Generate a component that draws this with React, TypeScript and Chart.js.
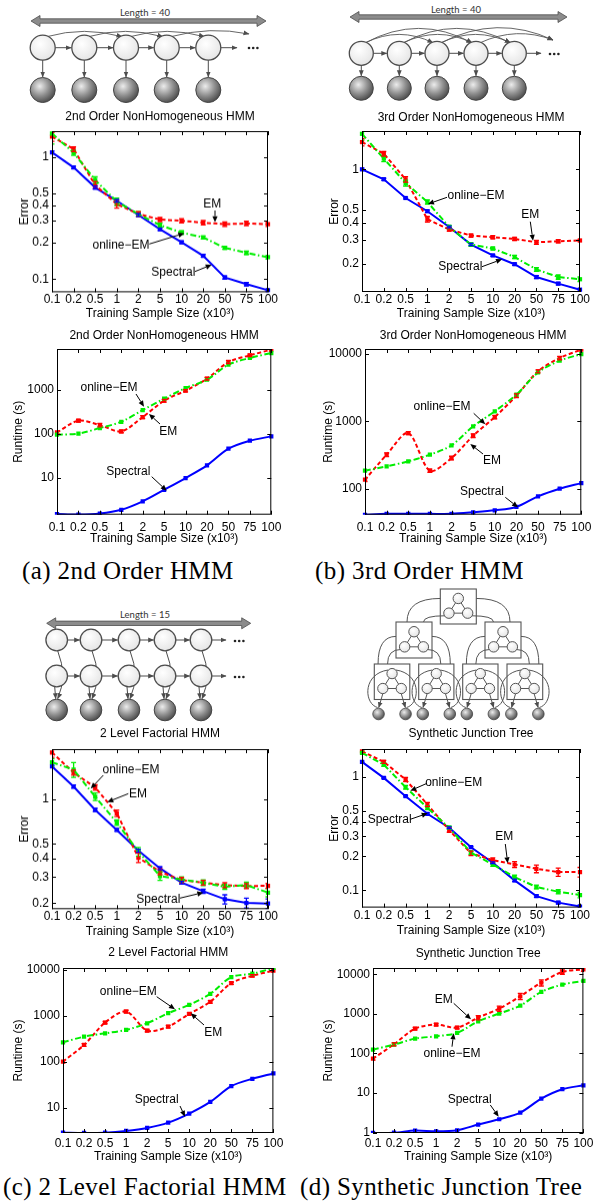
import React, { useEffect, useRef } from "react";
import { Chart, registerables } from "chart.js";

Chart.register(...registerables);
Chart.defaults.font.family = '"Liberation Sans", Arial, sans-serif';

// ---------------- data ----------------
const SAMPLE_SIZES = ["0.1", "0.2", "0.5", "1", "2", "5", "10", "20", "50", "75", "100"];
const X_LABEL = "Training Sample Size (x10\u00B3)";

// (a) 2nd Order NonHomogeneous HMM
const A_ERR_SPECTRAL = [1.085, 0.818, 0.561, 0.437, 0.334, 0.256, 0.2, 0.155, 0.103, 0.091, 0.081];
const A_ERR_EM = [1.46, 1.155, 0.587, 0.41, 0.34, 0.307, 0.3, 0.289, 0.281, 0.285, 0.281];
const A_ERR_ONLINE = [1.55, 1.078, 0.645, 0.43, 0.34, 0.276, 0.24, 0.219, 0.18, 0.164, 0.151];
const A_ERR_SPECTRAL_BAR = [0.03, 0.02, 0.015, 0.01, 0.008, 0.006, 0.005, 0.004, 0.003, 0.003, 0.002];
const A_ERR_EM_BAR = [0.12, 0.05, 0.04, 0.03, 0.015, 0.012, 0.012, 0.012, 0.012, 0.012, 0.012];
const A_ERR_ONLINE_BAR = [0.28, 0.05, 0.04, 0.03, 0.015, 0.01, 0.008, 0.006, 0.005, 0.005, 0.005];
const A_ERR_YTICKS = [0.1, 0.2, 0.3, 0.4, 0.5, 1];

const A_RT_SPECTRAL = [1.52, 1.48, 1.56, 1.9, 2.95, 5.4, 10, 19.4, 46.4, 70.5, 88.5];
const A_RT_EM = [109, 201, 160, 115, 243, 573, 966, 1810, 4330, 6140, 8260];
const A_RT_ONLINE = [96.6, 102, 137, 190, 351, 635, 1110, 1718, 3770, 5340, 6930];
const A_RT_EM_BAR = [8, 15, 14, 8, 18, 40, 60, 120, 350, 400, 600];
const A_RT_YTICKS = [10, 100, 1000];

// (b) 3rd Order NonHomogeneous HMM
const B_ERR_SPECTRAL = [1.0, 0.844, 0.614, 0.49, 0.375, 0.278, 0.231, 0.199, 0.16, 0.143, 0.129];
const B_ERR_EM = [1.59, 1.305, 0.844, 0.428, 0.359, 0.324, 0.315, 0.306, 0.289, 0.294, 0.298];
const B_ERR_ONLINE = [1.83, 1.2, 0.793, 0.574, 0.375, 0.278, 0.26, 0.225, 0.182, 0.16, 0.154];
const B_ERR_SPECTRAL_BAR = [0.02, 0.015, 0.01, 0.01, 0.006, 0.005, 0.004, 0.004, 0.004, 0.003, 0.003];
const B_ERR_EM_BAR = [0.1, 0.05, 0.04, 0.02, 0.01, 0.008, 0.008, 0.008, 0.01, 0.008, 0.006];
const B_ERR_ONLINE_BAR = [0.18, 0.06, 0.04, 0.02, 0.01, 0.008, 0.006, 0.006, 0.006, 0.006, 0.006];
const B_ERR_YTICKS = [0.2, 0.3, 0.4, 0.5, 1];

const B_RT_SPECTRAL = [41, 42.3, 42.3, 42.3, 42.3, 44.6, 47.7, 53.5, 77, 100, 121];
const B_RT_EM = [136, 320, 671, 185, 285, 612, 1158, 2404, 5530, 8720, 11600];
const B_RT_ONLINE = [185, 215, 255, 320, 440, 843, 1409, 2490, 5340, 7960, 10000];
const B_RT_EM_BAR = [8, 20, 35, 10, 18, 40, 70, 150, 300, 500, 500];
const B_RT_YTICKS = [100, 1000, 10000];

// (c) 2 Level Factorial HMM
const C_ERR_SPECTRAL = [1.66, 1.217, 0.848, 0.622, 0.451, 0.343, 0.275, 0.241, 0.213, 0.201, 0.199];
const C_ERR_EM = [2.06, 1.51, 1.2, 0.805, 0.405, 0.326, 0.286, 0.275, 0.265, 0.261, 0.262];
const C_ERR_ONLINE = [1.77, 1.58, 1.04, 0.697, 0.444, 0.305, 0.289, 0.275, 0.258, 0.265, 0.236];
const C_ERR_SPECTRAL_BAR = [0.03, 0.03, 0.02, 0.012, 0.01, 0.008, 0.006, 0.008, 0.015, 0.015, 0.015];
const C_ERR_EM_BAR = [0.15, 0.06, 0.05, 0.04, 0.03, 0.015, 0.012, 0.01, 0.01, 0.01, 0.01];
const C_ERR_ONLINE_BAR = [0.1, 0.18, 0.06, 0.03, 0.03, 0.02, 0.012, 0.012, 0.01, 0.012, 0.015];
const C_ERR_YTICKS = [0.2, 0.3, 0.4, 0.5, 1];

const C_RT_SPECTRAL = [2.84, 2.8, 2.84, 3.09, 3.59, 4.7, 7.4, 13.3, 29.2, 42.2, 55.3];
const C_RT_EM = [100, 230, 706, 1230, 472, 578, 1093, 2000, 5120, 7400, 9510];
const C_RT_ONLINE = [263, 349, 413, 489, 683, 1130, 1720, 2990, 6920, 8180, 10900];
const C_RT_EM_BAR = [6, 15, 40, 80, 30, 35, 60, 120, 300, 400, 500];
const C_RT_YTICKS = [10, 100, 1000, 10000];

// (d) Synthetic Junction Tree
const D_ERR_SPECTRAL = [1.355, 0.98, 0.676, 0.473, 0.356, 0.24, 0.175, 0.1225, 0.089, 0.078, 0.072];
const D_ERR_EM = [1.68, 1.355, 0.947, 0.571, 0.34, 0.212, 0.185, 0.169, 0.155, 0.145, 0.145];
const D_ERR_ONLINE = [1.63, 1.28, 0.811, 0.534, 0.356, 0.215, 0.169, 0.131, 0.107, 0.0973, 0.091];
const D_ERR_SPECTRAL_BAR = [0.02, 0.015, 0.01, 0.008, 0.006, 0.004, 0.003, 0.003, 0.002, 0.002, 0.002];
const D_ERR_EM_BAR = [0.04, 0.04, 0.04, 0.025, 0.015, 0.01, 0.008, 0.01, 0.012, 0.012, 0.014];
const D_ERR_ONLINE_BAR = [0.05, 0.04, 0.03, 0.02, 0.012, 0.008, 0.006, 0.005, 0.004, 0.004, 0.005];
const D_ERR_YTICKS = [0.1, 0.2, 0.3, 0.4, 0.5, 1];

const D_RT_SPECTRAL = [0.985, 1.0, 1.13, 1.08, 1.15, 1.6, 2.18, 3.21, 7.25, 12.5, 15.7];
const D_RT_EM = [74, 171, 424, 535, 450, 805, 1360, 2780, 6160, 11450, 13370];
const D_RT_ONLINE = [125, 168, 237, 272, 330, 650, 1016, 1620, 3580, 5480, 6790];
const D_RT_EM_BAR = [6, 15, 30, 40, 30, 100, 200, 500, 1100, 1500, 1500];
const D_RT_YTICKS = [1, 10, 100, 1000, 10000];

// ---------------- styles ----------------
type Kind = "sp" | "em" | "oe";
const COLORS: Record<Kind, string> = { sp: "#0000ff", em: "#ff0000", oe: "#00ee00" };
const DASH: Record<Kind, number[]> = { sp: [], em: [4, 2.5], oe: [6, 2.5, 1.5, 2.5] };

interface Series { kind: Kind; data: number[]; err?: number[] }
interface Ann { text: string; x: number; y: number; from: [number, number]; to: [number, number] }
interface PanelCfg {
  id: string; title: string; ylabel: string;
  L: number; T: number; R: number; B: number; ytx: number;
  tickGap: number; xlGap: number; titleGap: number;
  ymin: number; ymax: number; yticks: number[]; tension: number;
  series: Series[]; anns: Ann[];
}

const OEM = "online\u2212EM";

const PANELS: PanelCfg[] = [
  {
    id: "aerr", title: "2nd Order NonHomogeneous HMM", ylabel: "Error",
    L: 52, T: 131, R: 268, B: 292, ytx: 25, tickGap: 7.6, xlGap: 21.6, titleGap: 14,
    ymin: 0.078, ymax: 1.62, yticks: A_ERR_YTICKS, tension: 0,
    series: [
      { kind: "oe", data: A_ERR_ONLINE, err: A_ERR_ONLINE_BAR },
      { kind: "em", data: A_ERR_EM, err: A_ERR_EM_BAR },
      { kind: "sp", data: A_ERR_SPECTRAL, err: A_ERR_SPECTRAL_BAR },
    ],
    anns: [
      { text: "EM", x: 212.3, y: 203.3, from: [215, 210], to: [215, 221.7] },
      { text: OEM, x: 121, y: 245, from: [149.3, 243.3], to: [184.3, 232.7] },
      { text: "Spectral", x: 173.3, y: 271.7, from: [195, 270.7], to: [211.7, 264] },
    ],
  },
  {
    id: "berr", title: "3rd Order NonHomogeneous HMM", ylabel: "Error",
    L: 362, T: 131, R: 580, B: 292, ytx: 335, tickGap: 8, xlGap: 22, titleGap: 13.5,
    ymin: 0.124, ymax: 1.92, yticks: B_ERR_YTICKS, tension: 0,
    series: [
      { kind: "oe", data: B_ERR_ONLINE, err: B_ERR_ONLINE_BAR },
      { kind: "em", data: B_ERR_EM, err: B_ERR_EM_BAR },
      { kind: "sp", data: B_ERR_SPECTRAL, err: B_ERR_SPECTRAL_BAR },
    ],
    anns: [
      { text: OEM, x: 476, y: 196, from: [447, 197.3], to: [428, 204] },
      { text: "EM", x: 530.3, y: 214.3, from: [530.3, 221.7], to: [533, 240.7] },
      { text: "Spectral", x: 460.3, y: 266.7, from: [482, 266.7], to: [502, 259.3] },
    ],
  },
  {
    id: "art", title: "2nd Order NonHomogeneous HMM", ylabel: "Runtime (s)",
    L: 57, T: 349, R: 274, B: 515, ytx: 19, tickGap: 12.7, xlGap: 24.3, titleGap: 13.6,
    ymin: 1.47, ymax: 8550, yticks: A_RT_YTICKS, tension: 0.3,
    series: [
      { kind: "oe", data: A_RT_ONLINE },
      { kind: "em", data: A_RT_EM, err: A_RT_EM_BAR },
      { kind: "sp", data: A_RT_SPECTRAL },
    ],
    anns: [
      { text: OEM, x: 109, y: 387.7, from: [136, 394], to: [144, 406.7] },
      { text: "EM", x: 168.3, y: 431.7, from: [160, 424], to: [149, 414] },
      { text: "Spectral", x: 128.3, y: 471.7, from: [151.7, 476.7], to: [166.7, 490.7] },
    ],
  },
  {
    id: "brt", title: "3rd Order NonHomogeneous HMM", ylabel: "Runtime (s)",
    L: 365, T: 349, R: 584, B: 515, ytx: 329, tickGap: 12.7, xlGap: 24.3, titleGap: 13.6,
    ymin: 41.1, ymax: 11870, yticks: B_RT_YTICKS, tension: 0.3,
    series: [
      { kind: "oe", data: B_RT_ONLINE },
      { kind: "em", data: B_RT_EM, err: B_RT_EM_BAR },
      { kind: "sp", data: B_RT_SPECTRAL },
    ],
    anns: [
      { text: OEM, x: 442, y: 406.7, from: [473.7, 413.3], to: [485.3, 424.3] },
      { text: "EM", x: 492, y: 461, from: [483, 454], to: [470.3, 444] },
      { text: "Spectral", x: 482, y: 491.7, from: [505.3, 497.3], to: [518, 507.3] },
    ],
  },
  {
    id: "cerr", title: "2 Level Factorial HMM", ylabel: "Error",
    L: 52, T: 749, R: 268, B: 909, ytx: 25, tickGap: 7.7, xlGap: 22.7, titleGap: 15,
    ymin: 0.1825, ymax: 2.17, yticks: C_ERR_YTICKS, tension: 0,
    series: [
      { kind: "oe", data: C_ERR_ONLINE, err: C_ERR_ONLINE_BAR },
      { kind: "em", data: C_ERR_EM, err: C_ERR_EM_BAR },
      { kind: "sp", data: C_ERR_SPECTRAL, err: C_ERR_SPECTRAL_BAR },
    ],
    anns: [
      { text: OEM, x: 131, y: 769.3, from: [103.3, 775], to: [90.7, 788.3] },
      { text: "EM", x: 138, y: 793.3, from: [128.3, 793.3], to: [107.3, 801.7] },
      { text: "Spectral", x: 158.3, y: 898.3, from: [180, 897.3], to: [203.3, 891.7] },
    ],
  },
  {
    id: "derr", title: "Synthetic Junction Tree", ylabel: "Error",
    L: 362, T: 749, R: 580, B: 908, ytx: 335, tickGap: 8, xlGap: 23.4, titleGap: 15,
    ymin: 0.0705, ymax: 1.76, yticks: D_ERR_YTICKS, tension: 0,
    series: [
      { kind: "oe", data: D_ERR_ONLINE, err: D_ERR_ONLINE_BAR },
      { kind: "em", data: D_ERR_EM, err: D_ERR_EM_BAR },
      { kind: "sp", data: D_ERR_SPECTRAL, err: D_ERR_SPECTRAL_BAR },
    ],
    anns: [
      { text: OEM, x: 453.7, y: 782.7, from: [427, 783.3], to: [410.3, 790.7] },
      { text: "Spectral", x: 389.7, y: 819.3, from: [410.3, 819.3], to: [427.7, 813.3] },
      { text: "EM", x: 504.3, y: 836.7, from: [505.3, 844], to: [507.7, 863.3] },
    ],
  },
  {
    id: "crt", title: "2 Level Factorial HMM", ylabel: "Runtime (s)",
    L: 63, T: 968, R: 274, B: 1133, ytx: 19, tickGap: 10.6, xlGap: 24, titleGap: 15,
    ymin: 2.79, ymax: 10900, yticks: C_RT_YTICKS, tension: 0.3,
    series: [
      { kind: "oe", data: C_RT_ONLINE },
      { kind: "em", data: C_RT_EM, err: C_RT_EM_BAR },
      { kind: "sp", data: C_RT_SPECTRAL },
    ],
    anns: [
      { text: OEM, x: 128.3, y: 991.7, from: [156.7, 996.7], to: [175, 1009.3] },
      { text: "EM", x: 213.3, y: 1032.7, from: [204, 1025], to: [190.7, 1013.3] },
      { text: "Spectral", x: 156.7, y: 1100, from: [180, 1106], to: [185, 1116.7] },
    ],
  },
  {
    id: "drt", title: "Synthetic Junction Tree", ylabel: "Runtime (s)",
    L: 373, T: 968, R: 584, B: 1133, ytx: 329, tickGap: 10.6, xlGap: 24, titleGap: 14.6,
    ymin: 0.98, ymax: 14400, yticks: D_RT_YTICKS, tension: 0.3,
    series: [
      { kind: "oe", data: D_RT_ONLINE },
      { kind: "em", data: D_RT_EM, err: D_RT_EM_BAR },
      { kind: "sp", data: D_RT_SPECTRAL },
    ],
    anns: [
      { text: "EM", x: 443.7, y: 999.3, from: [453.7, 1003.3], to: [471, 1019.3] },
      { text: OEM, x: 452, y: 1054, from: [452, 1046.7], to: [453.7, 1033.3] },
      { text: "Spectral", x: 469.7, y: 1100, from: [490.3, 1105], to: [498.7, 1116.7] },
    ],
  },
];

// ---------------- chart plugin ----------------
function makePanelPlugin(cfg: PanelCfg, left: number, top: number) {
  return {
    id: "panel_" + cfg.id,
    afterDatasetsDraw(chart: any) {
      const ctx = chart.ctx;
      const ca = chart.chartArea;
      const ys = chart.scales.y;
      ctx.save();
      ctx.beginPath();
      ctx.rect(ca.left, ca.top, ca.right - ca.left, ca.bottom - ca.top);
      ctx.clip();
      cfg.series.forEach((s, di) => {
        if (!s.err) return;
        const meta = chart.getDatasetMeta(di);
        ctx.strokeStyle = COLORS[s.kind];
        ctx.lineWidth = 1.3;
        ctx.setLineDash([]);
        s.data.forEach((v, i) => {
          const e = s.err![i];
          if (!e) return;
          const px = meta.data[i].x;
          const y1 = ys.getPixelForValue(Math.max(v - e, v * 0.05));
          const y2 = ys.getPixelForValue(v + e);
          ctx.beginPath();
          ctx.moveTo(px, y1); ctx.lineTo(px, y2);
          ctx.moveTo(px - 2.5, y1); ctx.lineTo(px + 2.5, y1);
          ctx.moveTo(px - 2.5, y2); ctx.lineTo(px + 2.5, y2);
          ctx.stroke();
        });
      });
      ctx.restore();
    },
    afterDraw(chart: any) {
      const ctx = chart.ctx;
      const ca = chart.chartArea;
      const xs = chart.scales.x;
      const ys = chart.scales.y;
      ctx.save();
      ctx.setLineDash([]);
      ctx.strokeStyle = "#000";
      ctx.lineWidth = 1;
      ctx.strokeRect(ca.left + 0.5, ca.top + 0.5, ca.right - ca.left - 1, ca.bottom - ca.top - 1);
      ctx.beginPath();
      SAMPLE_SIZES.forEach((_, i) => {
        const px = Math.round(xs.getPixelForValue(i)) + 0.5;
        ctx.moveTo(px, ca.bottom); ctx.lineTo(px, ca.bottom - 4);
        ctx.moveTo(px, ca.top); ctx.lineTo(px, ca.top + 4);
      });
      cfg.yticks.forEach((v) => {
        const py = Math.round(ys.getPixelForValue(v)) + 0.5;
        ctx.moveTo(ca.left, py); ctx.lineTo(ca.left + 4, py);
        ctx.moveTo(ca.right, py); ctx.lineTo(ca.right - 4, py);
      });
      ctx.stroke();
      // title
      ctx.fillStyle = "#000";
      ctx.font = '12px "Liberation Sans", Arial, sans-serif';
      ctx.textAlign = "center";
      ctx.textBaseline = "middle";
      ctx.fillText(cfg.title, (ca.left + ca.right) / 2, ca.top - cfg.titleGap);
      // annotations
      cfg.anns.forEach((a) => {
        ctx.fillText(a.text, a.x - left, a.y - top);
        const x1 = a.from[0] - left, y1 = a.from[1] - top;
        const x2 = a.to[0] - left, y2 = a.to[1] - top;
        const ang = Math.atan2(y2 - y1, x2 - x1);
        const hl = 6, hw = 2.6;
        const bx = x2 - hl * Math.cos(ang), by = y2 - hl * Math.sin(ang);
        ctx.beginPath();
        ctx.moveTo(x1, y1); ctx.lineTo(bx, by);
        ctx.stroke();
        ctx.beginPath();
        ctx.moveTo(x2, y2);
        ctx.lineTo(bx + hw * Math.sin(ang), by - hw * Math.cos(ang));
        ctx.lineTo(bx - hw * Math.sin(ang), by + hw * Math.cos(ang));
        ctx.closePath();
        ctx.fill();
      });
      ctx.restore();
    },
  };
}

function Panel({ cfg }: { cfg: PanelCfg }) {
  const ref = useRef<HTMLCanvasElement>(null);
  const left = cfg.ytx - 7;
  const top = cfg.T - 24;
  const width = cfg.R + 14 - left;
  const xh = cfg.xlGap + 7;
  const height = cfg.B + xh - top;
  useEffect(() => {
    const chart = new Chart(ref.current as HTMLCanvasElement, {
      type: "line",
      data: {
        labels: SAMPLE_SIZES,
        datasets: cfg.series.map((s) => ({
          label: s.kind,
          data: s.data,
          borderColor: COLORS[s.kind],
          backgroundColor: COLORS[s.kind],
          borderWidth: 2,
          borderDash: DASH[s.kind],
          pointStyle: "rect",
          pointRadius: 3,
          pointBorderWidth: 0,
          pointBackgroundColor: COLORS[s.kind],
          tension: cfg.tension,
          fill: false,
        })),
      },
      options: {
        responsive: false,
        animation: false,
        devicePixelRatio: 1,
        events: [],
        layout: { padding: { left: 0, right: 14, top: 24, bottom: 0 } },
        plugins: { legend: { display: false }, tooltip: { enabled: false }, title: { display: false } },
        scales: {
          x: {
            type: "category",
            offset: false,
            grid: { display: false, drawTicks: false },
            border: { display: false },
            ticks: {
              autoSkip: false, maxRotation: 0, minRotation: 0,
              padding: cfg.tickGap - 6, color: "#000",
              font: { size: 12, lineHeight: 1 },
            },
            title: { display: true, text: X_LABEL, color: "#000", font: { size: 12, lineHeight: "14px" }, padding: 0 },
            afterFit: (s: any) => { s.height = xh; },
          },
          y: {
            type: "logarithmic",
            bounds: "data",
            min: cfg.ymin,
            max: cfg.ymax,
            grid: { display: false, drawTicks: false },
            border: { display: false },
            afterBuildTicks: (s: any) => { s.ticks = cfg.yticks.map((v) => ({ value: v })); },
            ticks: {
              autoSkip: false, padding: 3, color: "#000",
              font: { size: 12, lineHeight: 1 },
              callback: (v: any) => String(v),
            },
            title: { display: true, text: cfg.ylabel, color: "#000", font: { size: 12, lineHeight: "14px" }, padding: 0 },
            afterFit: (s: any) => { s.width = cfg.L - left; },
          },
        },
      } as any,
      plugins: [makePanelPlugin(cfg, left, top)],
    });
    return () => chart.destroy();
  }, []);
  return (
    <canvas
      ref={ref}
      width={width}
      height={height}
      style={{ position: "absolute", left, top, width, height }}
    />
  );
}

// ---------------- diagrams ----------------
const STROKE = "#4d4d4d";

function LengthArrow({ x1, x2, y, label, tx, ty }: any) {
  const hl = 9, hh = 5.5, sh = 2.2;
  const d = `M${x1},${y} L${x1 + hl},${y - hh} L${x1 + hl},${y - sh} L${x2 - hl},${y - sh} L${x2 - hl},${y - hh} L${x2},${y} L${x2 - hl},${y + hh} L${x2 - hl},${y + sh} L${x1 + hl},${y + sh} L${x1 + hl},${y + hh} Z`;
  return (
    <g>
      <path d={d} fill="#8c8c8c" stroke="#4d4d4d" strokeWidth={0.8} />
      <text x={tx} y={ty} fontSize={9.5} fontFamily="Lato, 'Open Sans', sans-serif" fill="#333" textAnchor="middle" dominantBaseline="middle">{label}</text>
    </g>
  );
}

function Dots({ x, y }: any) {
  return (
    <g fill="#222">
      <circle cx={x} cy={y} r={1.3} />
      <circle cx={x + 4.2} cy={y} r={1.3} />
      <circle cx={x + 8.4} cy={y} r={1.3} />
    </g>
  );
}

function Row({ xs, y, r, endX }: any) {
  return (
    <g>
      {xs.map((x: number, i: number) => (
        <line key={"h" + i} x1={x + r} y1={y} x2={i < xs.length - 1 ? xs[i + 1] - r - 0.5 : endX} y2={y} stroke={STROKE} strokeWidth={1} markerEnd="url(#ah)" />
      ))}
      {xs.map((x: number, i: number) => (
        <circle key={"c" + i} cx={x} cy={y} r={r} fill="url(#wf)" stroke={STROKE} strokeWidth={1.3} />
      ))}
    </g>
  );
}

function Arcs({ xs, y, r, step, ctrlY, end }: any) {
  const paths: any[] = [];
  for (let i = 0; i < xs.length - step + 1 && i < xs.length - 1; i++) {
    const sx = xs[i] + 4, sy = y - r + 1.5;
    let ex: number, ey: number;
    if (i + step < xs.length) { ex = xs[i + step] - 4; ey = y - r + 1.5; } else { ex = end[0]; ey = end[1]; }
    paths.push(<path key={i} d={`M${sx},${sy} Q${(sx + ex) / 2},${ctrlY} ${ex},${ey}`} fill="none" stroke="#555" strokeWidth={0.9} markerEnd="url(#ah)" />);
  }
  return <g>{paths}</g>;
}

function Obs({ xs, yTop, yBot, r }: any) {
  return (
    <g>
      {xs.map((x: number, i: number) => (
        <line key={"v" + i} x1={x} y1={yTop + r} x2={x} y2={yBot - r - 0.5} stroke={STROKE} strokeWidth={1} markerEnd="url(#ah)" />
      ))}
      {xs.map((x: number, i: number) => (
        <circle key={"g" + i} cx={x} cy={yBot} r={r} fill="url(#gf)" stroke="#444" strokeWidth={1} />
      ))}
    </g>
  );
}

const DA = { xs: [42.7, 84.3, 126, 166.7, 208.3], yT: 47.7, yB: 90, r: 12.5 };
const DB = { xs: [361.3, 399.3, 437, 476, 514.3], yT: 53.3, yB: 88.3, r: 12 };
const DC = { xs: [56.7, 91, 129, 165, 201], y1: 640, y2: 676, yB: 710, r: 10.8 };

const JT_TOP = { x: 440.3, y: 589, w: 36, h: 35 };
const JT_MID = [{ x: 396, y: 622, w: 36, h: 36 }, { x: 485, y: 622, w: 36, h: 36 }];
const JT_BOT = [
  { x: 374.3, y: 664, w: 35.5, h: 35.5 },
  { x: 418.7, y: 664, w: 35.2, h: 35.5 },
  { x: 462.7, y: 664, w: 35.3, h: 35.5 },
  { x: 507, y: 664, w: 35.7, h: 35.5 },
];

function Clique({ b }: any) {
  const cx = b.x + b.w / 2;
  const r = b.w * 0.145;
  const t = [cx, b.y + b.h * 0.27];
  const l = [cx - b.w * 0.26, b.y + b.h * 0.69];
  const rr = [cx + b.w * 0.26, b.y + b.h * 0.69];
  return (
    <g>
      <rect x={b.x} y={b.y} width={b.w} height={b.h} fill="none" stroke="#555" strokeWidth={1.1} />
      <line x1={t[0]} y1={t[1]} x2={l[0]} y2={l[1]} stroke="#555" strokeWidth={1} />
      <line x1={t[0]} y1={t[1]} x2={rr[0]} y2={rr[1]} stroke="#555" strokeWidth={1} />
      <line x1={l[0]} y1={l[1]} x2={rr[0]} y2={rr[1]} stroke="#555" strokeWidth={1} />
      {[t, l, rr].map((p, i) => (
        <circle key={i} cx={p[0]} cy={p[1]} r={r} fill="url(#wf)" stroke="#555" strokeWidth={1} />
      ))}
    </g>
  );
}

function Links({ P, C, outerOff, innerOff, outerY }: any) {
  const pcx = P.x + P.w / 2, ccx = C.x + C.w / 2;
  const side = ccx < pcx ? -1 : 1;
  const sx = side < 0 ? P.x : P.x + P.w;
  const oy = P.y + P.h * outerY;
  const ex = ccx + side * outerOff;
  const r = P.w * 0.145;
  const isx = pcx + side * (P.w * 0.26 + r * 0.7);
  const isy = P.y + P.h * 0.69 + r * 0.5;
  const iex = ccx + side * innerOff;
  return (
    <g fill="none" stroke="#555" strokeWidth={1}>
      <path d={`M${sx},${oy} Q${ex},${oy} ${ex},${C.y}`} />
      <path d={`M${isx},${isy} Q${iex},${isy} ${iex},${C.y}`} />
    </g>
  );
}

function Diagrams() {
  return (
    <svg width={594} height={1202} style={{ position: "absolute", left: 0, top: 0 }}>
      <defs>
        <marker id="ah" markerWidth="6" markerHeight="6" refX="5.5" refY="3" orient="auto" markerUnits="userSpaceOnUse">
          <path d="M0,0.6 L6,3 L0,5.4 Z" fill="#4d4d4d" />
        </marker>
        <radialGradient id="wf" cx="40%" cy="35%" r="70%">
          <stop offset="0" stopColor="#ffffff" />
          <stop offset="1" stopColor="#e4e4e4" />
        </radialGradient>
        <radialGradient id="gf" cx="38%" cy="35%" r="70%">
          <stop offset="0" stopColor="#ececec" />
          <stop offset="0.55" stopColor="#8e8e8e" />
          <stop offset="1" stopColor="#474747" />
        </radialGradient>
      </defs>

      {/* (a) 2nd order HMM */}
      <LengthArrow x1={31} x2={266} y={21} label="Length = 40" tx={145} ty={13.3} />
      <Arcs xs={DA.xs} y={DA.yT} r={DA.r} step={2} ctrlY={26} end={[249, 34]} />
      <Row xs={DA.xs} y={DA.yT} r={DA.r} endX={237} />
      <Dots x={249} y={48} />
      <Obs xs={DA.xs} yTop={DA.yT} yBot={DA.yB} r={DA.r} />

      {/* (b) 3rd order HMM */}
      <LengthArrow x1={350} x2={567} y={17} label="Length = 40" tx={456} ty={10.7} />
      <Arcs xs={DB.xs} y={DB.yT} r={DB.r} step={2} ctrlY={26} end={[553, 40]} />
      <Arcs xs={DB.xs} y={DB.yT} r={DB.r} step={3} ctrlY={14} end={[553, 40]} />
      <Row xs={DB.xs} y={DB.yT} r={DB.r} endX={541} />
      <Dots x={550} y={54} />
      <Obs xs={DB.xs} yTop={DB.yT} yBot={DB.yB} r={DB.r} />

      {/* (c) factorial HMM */}
      <LengthArrow x1={46.7} x2={250.7} y={623.3} label="Length = 15" tx={145} ty={616} />
      {DC.xs.map((x, i) => (
        <g key={"cl" + i} fill="none" stroke={STROKE} strokeWidth={1}>
          <path d={`M${x + 1},${DC.y1 + DC.r} Q${x + 11},${DC.y2} ${x + 1},${DC.yB - DC.r - 0.5}`} markerEnd="url(#ah)" />
          <path d={`M${x - 2},${DC.y2 + DC.r} L${x - 1},${DC.yB - DC.r - 0.5}`} markerEnd="url(#ah)" />
        </g>
      ))}
      <Row xs={DC.xs} y={DC.y1} r={DC.r} endX={226} />
      <Row xs={DC.xs} y={DC.y2} r={DC.r} endX={226} />
      <Dots x={235} y={641} />
      <Dots x={235} y={677} />
      {DC.xs.map((x, i) => (
        <circle key={"cg" + i} cx={x} cy={DC.yB} r={DC.r} fill="url(#gf)" stroke="#444" strokeWidth={1} />
      ))}

      {/* (d) junction tree */}
      <Links P={JT_TOP} C={JT_MID[0]} outerOff={7} innerOff={-9.5} outerY={0.27} />
      <Links P={JT_TOP} C={JT_MID[1]} outerOff={7} innerOff={-9.5} outerY={0.27} />
      <Links P={JT_MID[0]} C={JT_BOT[0]} outerOff={14} innerOff={4.5} outerY={0.4} />
      <Links P={JT_MID[0]} C={JT_BOT[1]} outerOff={14} innerOff={4.5} outerY={0.4} />
      <Links P={JT_MID[1]} C={JT_BOT[2]} outerOff={14} innerOff={4.5} outerY={0.4} />
      <Links P={JT_MID[1]} C={JT_BOT[3]} outerOff={14} innerOff={4.5} outerY={0.4} />
      {JT_BOT.map((b, i) => {
        const cx = b.x + b.w / 2;
        const r = b.w * 0.145;
        const by = b.y + b.h * 0.69;
        return (
          <g key={"jb" + i} fill="none" stroke="#555" strokeWidth={1}>
            <path d={`M${cx - 4},${b.y + 6} C${cx - 30},${b.y + 10} ${cx - 28},${b.y + 40} ${cx - 14.5},707.5`} />
            <path d={`M${cx + 4},${b.y + 6} C${cx + 30},${b.y + 10} ${cx + 28},${b.y + 40} ${cx + 14.5},707.5`} />
            <line x1={cx - b.w * 0.26} y1={by + r} x2={cx - 13.3} y2={707.6} markerEnd="url(#ah)" />
            <line x1={cx + b.w * 0.26} y1={by + r} x2={cx + 13.3} y2={707.6} markerEnd="url(#ah)" />
          </g>
        );
      })}
      <Clique b={JT_TOP} />
      {JT_MID.map((b, i) => <Clique key={"m" + i} b={b} />)}
      {JT_BOT.map((b, i) => <Clique key={"b" + i} b={b} />)}
      {JT_BOT.map((b, i) => {
        const cx = b.x + b.w / 2;
        return (
          <g key={"jg" + i}>
            <circle cx={cx - 13.5} cy={714} r={5.8} fill="url(#gf)" stroke="#444" strokeWidth={0.8} />
            <circle cx={cx + 13.5} cy={714} r={5.8} fill="url(#gf)" stroke="#444" strokeWidth={0.8} />
          </g>
        );
      })}
    </svg>
  );
}

const CAPTIONS = [
  { text: "(a) 2nd Order HMM", left: 22, top: 556 },
  { text: "(b) 3rd Order HMM", left: 315, top: 556 },
  { text: "(c) 2 Level Factorial HMM", left: 3, top: 1172 },
  { text: "(d) Synthetic Junction Tree", left: 300, top: 1172 },
];

export default function App() {
  return (
    <div style={{ position: "absolute", left: 0, top: 0, width: 594, height: 1202, background: "#fff", overflow: "hidden" }}>
      <Diagrams />
      {PANELS.map((p) => <Panel key={p.id} cfg={p} />)}
      {CAPTIONS.map((c, i) => (
        <div key={i} style={{ position: "absolute", left: c.left, top: c.top, fontFamily: '"Liberation Serif", "Times New Roman", serif', fontSize: 25, lineHeight: "30px", letterSpacing: "0.4px", whiteSpace: "nowrap", color: "#000" }}>
          {c.text}
        </div>
      ))}
    </div>
  );
}
